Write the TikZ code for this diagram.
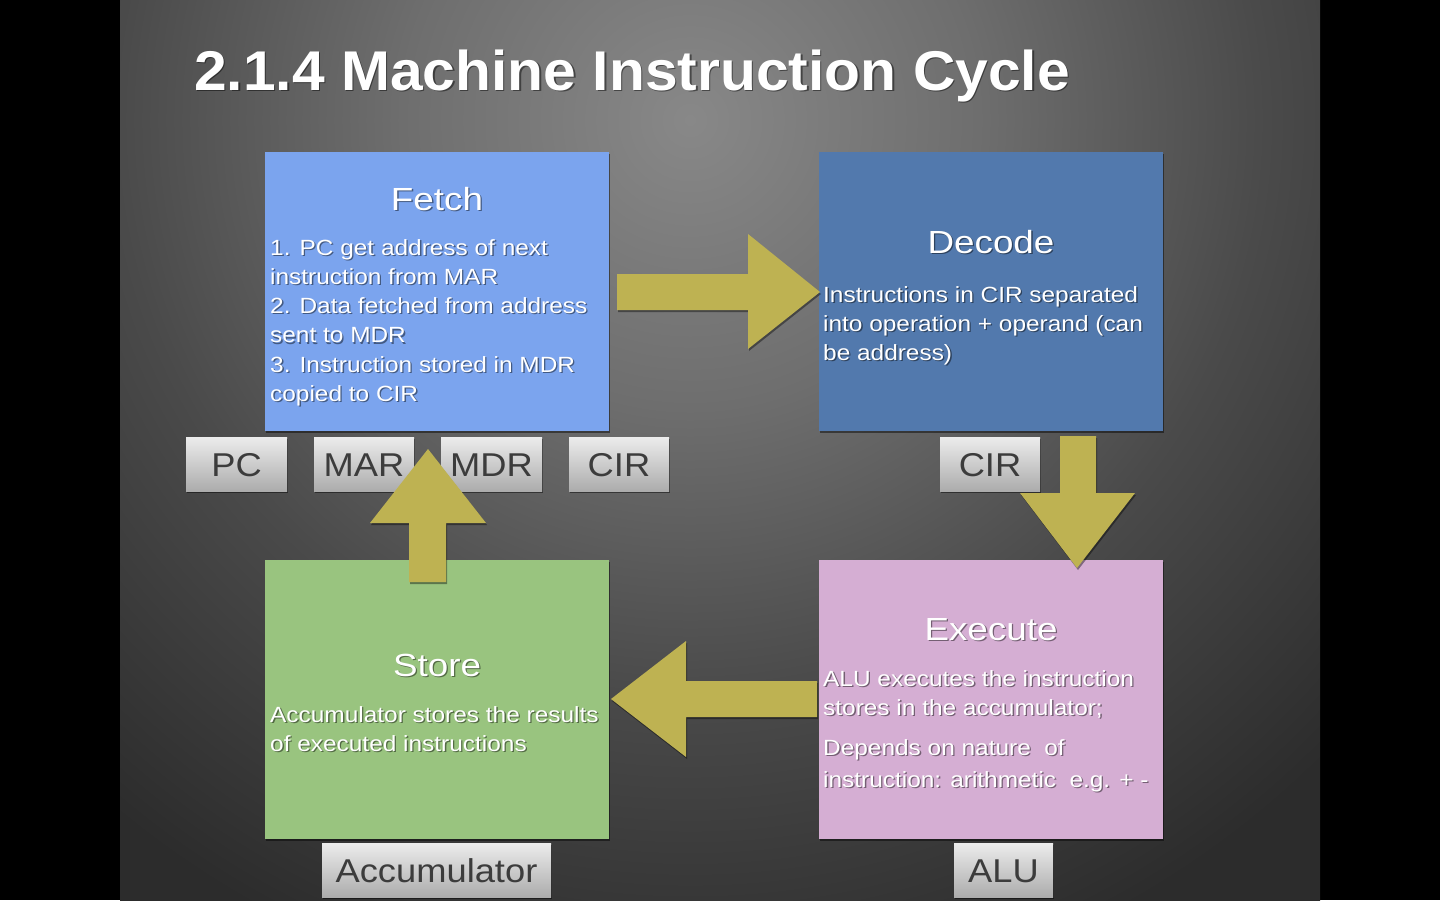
\documentclass[tikz,border=0pt]{standalone}
\usepackage{fontspec}
\setmainfont{Liberation Sans}
\newfontfamily\titlefont[FakeStretch=1.05]{Liberation Sans}
\newfontfamily\headfont[FakeStretch=1.15]{Liberation Sans}
\newfontfamily\bodyfont[FakeStretch=1.11]{Liberation Sans}
\newfontfamily\regfont[FakeStretch=1.1]{Liberation Sans}
\usetikzlibrary{shadows}

\definecolor{fetchc}{RGB}{123,164,238}
\definecolor{decodec}{RGB}{82,121,173}
\definecolor{storec}{RGB}{153,196,127}
\definecolor{execc}{RGB}{213,174,211}
\definecolor{arrowc}{RGB}{190,178,82}
\definecolor{regtop}{RGB}{236,236,236}
\definecolor{regbot}{RGB}{172,172,172}
\definecolor{regtext}{RGB}{60,60,60}
\definecolor{bgzero}{RGB}{136,136,136}
\definecolor{bgone}{RGB}{110,110,110}
\definecolor{bgtwo}{RGB}{74,74,74}
\definecolor{bgthree}{RGB}{44,44,44}

\pgfdeclareradialshading{slidebg}{\pgfpoint{0bp}{0bp}}{color(0bp)=(bgzero); color(8bp)=(bgone); color(16bp)=(bgtwo); color(25bp)=(bgthree); color(50bp)=(bgthree)}

\newcommand\mylines[1]{\begin{tabular}[t]{@{}l@{}}#1\end{tabular}}
\newcommand\shtext[4]{%
  \node[#1, text=black, opacity=0.45, xshift=1.3pt, yshift=-1.3pt] at (#3) {#4};
  \node[#1] (#2) at (#3) {#4};}

\tikzset{
  stage/.style={draw=none, inner sep=0, minimum width=344, minimum height=279, anchor=north west,
    drop shadow={shadow xshift=1pt, shadow yshift=-2pt, opacity=0.45, fill=black}},
  stagetitle/.style={anchor=base, inner sep=0, text=white, font=\headfont\fontsize{32}{36}\selectfont},
  bodytext/.style={anchor=base west, inner sep=0, text=white, font=\bodyfont\fontsize{22}{29.3}\selectfont},
  reg/.style={minimum height=54, inner sep=0, top color=regtop, bottom color=regbot, text=regtext,
    font=\regfont\fontsize{33}{36}\selectfont, text height=24, text depth=0,
    drop shadow={shadow xshift=1pt, shadow yshift=-2pt, opacity=0.45, fill=black}},
  blockarrow/.style={fill=arrowc, draw=none,
    drop shadow={shadow xshift=1pt, shadow yshift=-2pt, opacity=0.4, fill=black}}
}

\begin{document}
\begin{tikzpicture}[x=1pt,y=-1pt]
\useasboundingbox (0,0) rectangle (1440,900);
\fill[black] (0,0) rectangle (1440,900);
\begin{scope}
  \clip (120,0) rectangle (1320,900);
  \shade[shading=slidebg] (-210,-780) rectangle (1590,1020);
\end{scope}

% title
\shtext{anchor=base west, inner sep=0, text=white, font=\titlefont\fontsize{56}{60}\selectfont\bfseries}{title}{194,90}{2.1.4 Machine Instruction Cycle}

% stage boxes
\node[stage, fill=fetchc] (fetch) at (265,152) {};
\node[stage, fill=decodec] (decode) at (819,152) {};
\node[stage, fill=storec] (store) at (265,560) {};
\node[stage, fill=execc] (execute) at (819,560) {};

% titles
\shtext{stagetitle}{fetcht}{437,210}{Fetch}
\shtext{stagetitle}{decodet}{991,253}{Decode}
\shtext{stagetitle}{storet}{437,676}{Store}
\shtext{stagetitle}{executet}{991,640}{Execute}

% body texts
\shtext{bodytext}{fetchb}{270,255}{\mylines{1. PC get address of next\\ instruction from MAR\\ 2. Data fetched from address\\ sent to MDR\\ 3. Instruction stored in MDR\\ copied to CIR}}
\shtext{bodytext}{decodeb}{823,302}{\mylines{Instructions in CIR separated\\ into operation + operand (can\\ be address)}}
\shtext{bodytext}{storeb}{270,722}{\mylines{Accumulator stores the results\\ of executed instructions}}
\shtext{bodytext}{executeb}{823,686}{\mylines{ALU executes the instruction\\ stores in the accumulator;}}
\shtext{bodytext, font=\bodyfont\fontsize{22}{32}\selectfont}{executec}{823,755}{\mylines{Depends on nature\hspace{0.3em} of\\ instruction: arithmetic\hspace{0.3em} e.g. + -}}

% registers
\node[reg, minimum width=101] (pc) at (236.5,464) {PC};
\node[reg, minimum width=100] (mar) at (364,464) {MAR};
\node[reg, minimum width=101] (mdr) at (491.5,464) {MDR};
\node[reg, minimum width=100] (cir) at (619,464) {CIR};
\node[reg, minimum width=100] (cirb) at (990,464) {CIR};
\node[reg, minimum width=229] (acc) at (436.5,870) {Accumulator};
\node[reg, minimum width=99] (alu) at (1003.5,870) {ALU};

% block arrows
\fill[blockarrow] (617,274) -- (748,274) -- (748,234) -- (820,292) -- (748,349) -- (748,310) -- (617,310) -- cycle;
\fill[blockarrow] (1060,436) -- (1096,436) -- (1096,493) -- (1135,493) -- (1077,568) -- (1020,493) -- (1060,493) -- cycle;
\fill[blockarrow] (817,681) -- (686,681) -- (686,641) -- (611,699) -- (686,757) -- (686,717) -- (817,717) -- cycle;
\fill[blockarrow] (409,582) -- (409,523) -- (370,523) -- (428,449) -- (486,523) -- (446,523) -- (446,582) -- cycle;
\end{tikzpicture}
\end{document}
